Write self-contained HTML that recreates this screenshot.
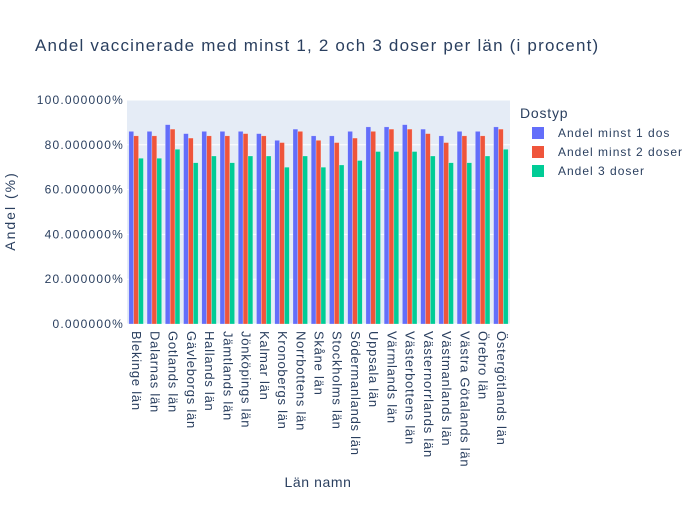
<!DOCTYPE html>
<html><head><meta charset="utf-8"><style>
body{margin:0;background:#fff;font-family:"Liberation Sans",sans-serif}
svg text{font-family:"Liberation Sans",sans-serif;fill:#2a3f5f}
</style></head><body>
<svg id="c" width="700" height="500"></svg>
<script>
const categories=["Blekinge län","Dalarnas län","Gotlands län","Gävleborgs län","Hallands län","Jämtlands län","Jönköpings län","Kalmar län","Kronobergs län","Norrbottens län","Skåne län","Stockholms län","Södermanlands län","Uppsala län","Värmlands län","Västerbottens län","Västernorrlands län","Västmanlands län","Västra Götalands län","Örebro län","Östergötlands län"];
const dose1=[86,86,89,85,86,86,86,85,82,87,84,84,86,88,88,89,87,84,86,86,88];
const dose2=[84,84,87,83,84,84,85,84,81,86,82,81,83,86,87,87,85,81,84,84,87];
const dose3=[74,74,78,72,75,72,75,75,70,75,70,71,73,77,77,77,75,72,72,75,78];
const yTicks=[0,20,40,60,80,100];
const seriesNames=["Andel minst 1 dos","Andel minst 2 doser","Andel 3 doser"];
const colors=["#636efa","#EF553B","#00cc96"];
const NS="http://www.w3.org/2000/svg";
const svg=document.getElementById('c');
const X0=127,X1=510,Y0=324,Y1=100;
const y=v=>Y0-(v/100)*(Y0-Y1);
const band=(X1-X0)/categories.length;
const x=i=>X0+i*band;
function mk(t,a,p){const e=document.createElementNS(NS,t);for(const k in a)e.setAttribute(k,a[k]);(p||svg).appendChild(e);return e;}
let bg=mk('rect',{x:X0,y:Y1,width:X1-X0,height:Y0-Y1,fill:'#e5ecf6'});


yTicks.forEach(t=>{
  let l=mk('line',{x1:X0,x2:X1,y1:y(t),y2:y(t),stroke:'#fff','stroke-width':1});
  
  
  let tx=mk('text',{x:X0-3,y:y(t)+4,'text-anchor':'end','font-size':12,'letter-spacing':'1.2'});
  tx.textContent=t.toFixed(6)+'%';
  
  
});
const series=[dose1,dose2,dose3];
const gw=band*0.8,bw=gw/3;
series.forEach((s,si)=>{
  s.forEach((v,i)=>{
    let r=mk('rect',{x:x(i)+band*0.1+si*bw,y:y(v),width:bw,height:y(0)-y(v),fill:colors[si],stroke:'rgba(255,255,255,0.5)','stroke-width':0.5});
    
    
  });
});
categories.forEach((c,i)=>{
  const cx=x(i)+band/2-4;
  let t=mk('text',{x:cx,y:Y0+7,'font-size':13,'letter-spacing':'0.75',transform:`rotate(90 ${cx} ${Y0+7})`});
  t.textContent=c;
  
  
});
let ti=mk('text',{x:35,y:51,'font-size':17,'letter-spacing':'1.2'});ti.textContent='Andel vaccinerade med minst 1, 2 och 3 doser per län (i procent)';


let xt=mk('text',{x:318,y:487,'font-size':14,'letter-spacing':'0.6','text-anchor':'middle'});xt.textContent='Län namn';


let yt=mk('text',{x:15,y:211,'font-size':14,'letter-spacing':'2','text-anchor':'middle',transform:'rotate(-90 15 211)'});yt.textContent='Andel (%)';


let lt=mk('text',{x:520,y:118,'font-size':14,'letter-spacing':'0.8'});lt.textContent='Dostyp';


seriesNames.forEach((n,i)=>{
  const ly=133+i*19;
  let g=mk('g',{});
  
  
  mk('rect',{x:532,y:ly-6,width:12,height:12,fill:colors[i]},g);
  let t=mk('text',{x:558,y:ly+4,'font-size':12,'letter-spacing':'1'},g);t.textContent=n;
});
</script>
</body></html>
